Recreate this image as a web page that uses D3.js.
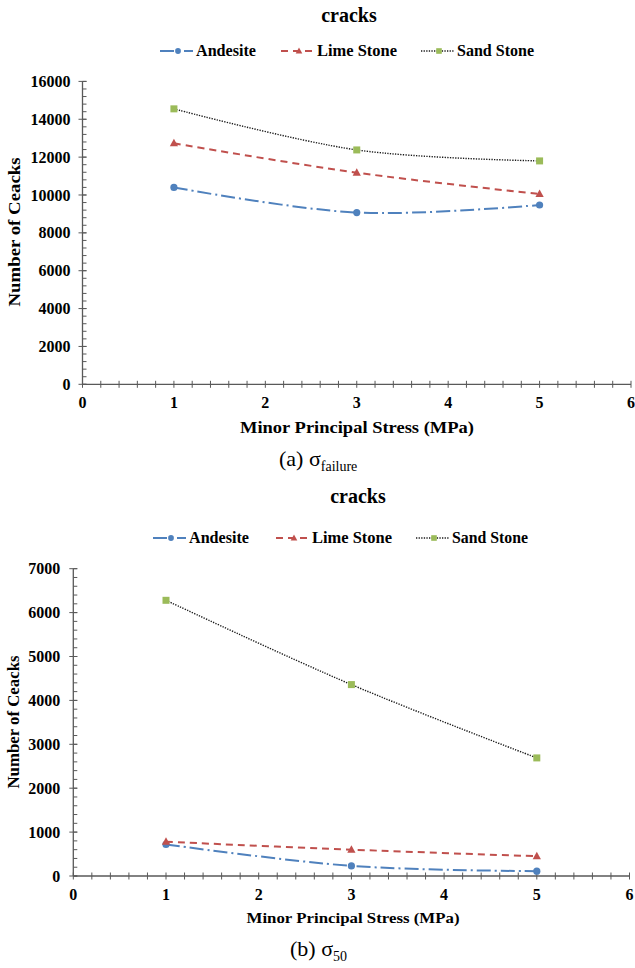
<!DOCTYPE html>
<html><head><meta charset="utf-8">
<script src="https://cdn.jsdelivr.net/npm/d3@7"></script>
<style>
html,body{margin:0;padding:0;background:#fff;}
svg{display:block;}
</style></head>
<body>
<svg id="chart" width="635" height="968"></svg>
<script>
// ---- data ----
const xValues = [1, 3, 5];
const seriesNames = ["Andesite", "Lime Stone", "Sand Stone"];
const failureAndesite = [10400, 9070, 9470];
const failureLime = [12730, 11180, 10050];
const failureSand = [14550, 12380, 11800];
const s50Andesite = [720, 230, 110];
const s50Lime = [780, 600, 450];
const s50Sand = [6280, 4360, 2690];
const xTicks = [0, 1, 2, 3, 4, 5, 6];
const yTicksA = [0, 2000, 4000, 6000, 8000, 10000, 12000, 14000, 16000];
const yTicksB = [0, 1000, 2000, 3000, 4000, 5000, 6000, 7000];
const chartTitle = "cracks";
const yTitle = "Number of Ceacks";
const xTitle = "Minor Principal Stress (MPa)";

const FONT = "Liberation Serif";

const styles = [
  {color: "#4F81BD", dash: "14,4,2,4", width: 2, marker: "circle", mcolor: "#4F81BD"},
  {color: "#C0504D", dash: "7,5", width: 2, marker: "triangle", mcolor: "#C0504D"},
  {color: "#1a1a1a", dash: "1.3,1.3", width: 1.4, marker: "square", mcolor: "#9BBB59"}
];

const svg = d3.select("#chart");

function txt(sel) {
  return sel.append("text").attr("font-family", FONT).attr("fill", "#000");
}

function drawChart(cfg) {
  const g = svg.append("g");
  const x = d3.scaleLinear().domain([0, 6]).range(cfg.xr);
  const y = d3.scaleLinear().domain([0, cfg.ymax]).range(cfg.yr);

  // title
  txt(g).attr("x", cfg.titleX).attr("y", cfg.titleY).attr("text-anchor", "middle")
    .attr("font-weight", "bold").attr("font-size", 20).text(chartTitle);

  // legend
  cfg.series.forEach((vals, i) => {
    const st = styles[i], lx = cfg.legendX[i], ly = cfg.legendY;
    g.append("line").attr("x1", lx).attr("x2", lx + 33).attr("y1", ly).attr("y2", ly)
      .attr("stroke", st.color).attr("stroke-width", st.width).attr("stroke-dasharray", st.dash);
    drawMarker(g, st, lx + 18, ly, 0.8);
    txt(g).attr("x", lx + 36).attr("y", ly + 5)
      .attr("font-weight", "bold").attr("font-size", 16)
      .attr("textLength", cfg.legendW[i]).attr("lengthAdjust", "spacingAndGlyphs")
      .text(seriesNames[i]);
  });

  // axes
  const axisColor = "#595959";
  const minorX = d3.range(0, 6.0001, 0.2);
  const minorY = d3.range(0, cfg.ymax + 1, cfg.minorY);
  const ax = g.append("g");
  ax.append("line").attr("x1", x(0)).attr("x2", x(6)).attr("y1", y(0)).attr("y2", y(0))
    .attr("stroke", axisColor).attr("stroke-width", 1.3);
  ax.append("line").attr("x1", x(0)).attr("x2", x(0)).attr("y1", y(0)).attr("y2", y(cfg.ymax))
    .attr("stroke", axisColor).attr("stroke-width", 1.3);
  ax.selectAll(".mx").data(minorX).enter().append("line")
    .attr("x1", d => x(d)).attr("x2", d => x(d)).attr("y1", y(0) - 3.5).attr("y2", y(0) + 3.5)
    .attr("stroke", axisColor).attr("stroke-width", 1);
  ax.selectAll(".my").data(minorY).enter().append("line")
    .attr("x1", x(0)).attr("x2", x(0) + 4).attr("y1", d => y(d)).attr("y2", d => y(d))
    .attr("stroke", axisColor).attr("stroke-width", 1);
  ax.selectAll(".My").data(cfg.yTicks).enter().append("line")
    .attr("x1", x(0) - 4).attr("x2", x(0) + 4).attr("y1", d => y(d)).attr("y2", d => y(d))
    .attr("stroke", axisColor).attr("stroke-width", 1);

  xTicks.forEach(d => {
    txt(ax).attr("x", x(d)).attr("y", y(0) + cfg.xLabelOff).attr("text-anchor", "middle")
      .attr("font-weight", "bold").attr("font-size", 16).text(d);
  });
  cfg.yTicks.forEach(d => {
    txt(ax).attr("x", x(0) - cfg.yLabelGap).attr("y", y(d)).attr("dy", "0.35em").attr("text-anchor", "end")
      .attr("font-weight", "bold").attr("font-size", 16).text(d);
  });

  // axis titles
  txt(g).attr("x", cfg.xTitleX).attr("y", cfg.xTitleY).attr("text-anchor", "middle")
    .attr("font-weight", "bold").attr("font-size", cfg.xTitleFs)
    .attr("textLength", cfg.xTitleW).attr("lengthAdjust", "spacingAndGlyphs").text(xTitle);
  txt(g).attr("transform", `translate(${cfg.yTitleX},${cfg.yTitleY}) rotate(-90)`)
    .attr("text-anchor", "middle").attr("font-weight", "bold").attr("font-size", 17)
    .attr("textLength", cfg.yTitleW).attr("lengthAdjust", "spacingAndGlyphs").text(yTitle);

  // series
  const line = d3.line().x(d => x(d[0])).y(d => y(d[1])).curve(d3.curveCardinal.tension(0));
  cfg.series.forEach((vals, i) => {
    const st = styles[i];
    const pts = xValues.map((xv, j) => [xv, vals[j]]);
    g.append("path").attr("d", line(pts)).attr("fill", "none")
      .attr("stroke", st.color).attr("stroke-width", st.width).attr("stroke-dasharray", st.dash);
    pts.forEach(p => drawMarker(g, st, x(p[0]), y(p[1]), 1));
  });

  // caption
  const cap = txt(g).attr("x", cfg.capX).attr("y", cfg.capY).attr("font-size", 22);
  cap.append("tspan").text("(" + cfg.capLetter + ") σ");
  cap.append("tspan").attr("dy", 5).attr("font-size", 14).text(cfg.capSub);
}

function drawMarker(g, st, cx, cy, s) {
  if (st.marker === "circle") {
    g.append("circle").attr("cx", cx).attr("cy", cy).attr("r", 3.6 * s).attr("fill", st.mcolor);
  } else if (st.marker === "triangle") {
    const h = 7.5 * s;
    g.append("path").attr("d", `M${cx},${cy - h * 0.6}L${cx + h * 0.55},${cy + h * 0.4}L${cx - h * 0.55},${cy + h * 0.4}Z`)
      .attr("fill", st.mcolor);
  } else {
    const w = 7 * s;
    g.append("rect").attr("x", cx - w / 2).attr("y", cy - w / 2).attr("width", w).attr("height", w)
      .attr("fill", st.mcolor);
  }
}

drawChart({
  xr: [82.5, 631], yr: [384.3, 81.4], ymax: 16000, yTicks: yTicksA, minorY: 400,
  series: [failureAndesite, failureLime, failureSand],
  titleX: 349, titleY: 22,
  legendX: [160, 281, 421], legendY: 51, legendW: [60, 80, 77],
  xLabelOff: 24, yLabelGap: 12,
  xTitleX: 357, xTitleY: 433, xTitleW: 234, xTitleFs: 16,
  yTitleX: 20, yTitleY: 232, yTitleW: 149,
  capX: 279, capY: 466, capLetter: "a", capSub: "failure"
});

drawChart({
  xr: [73.3, 629.5], yr: [876, 568.7], ymax: 7000, yTicks: yTicksB, minorY: 200,
  series: [s50Andesite, s50Lime, s50Sand],
  titleX: 358, titleY: 503,
  legendX: [153, 276, 416], legendY: 538, legendW: [60, 80, 76],
  xLabelOff: 24, yLabelGap: 13,
  xTitleX: 353, xTitleY: 923, xTitleW: 213, xTitleFs: 15,
  yTitleX: 19, yTitleY: 722, yTitleW: 133,
  capX: 290, capY: 956, capLetter: "b", capSub: "50"
});
</script>
</body></html>
